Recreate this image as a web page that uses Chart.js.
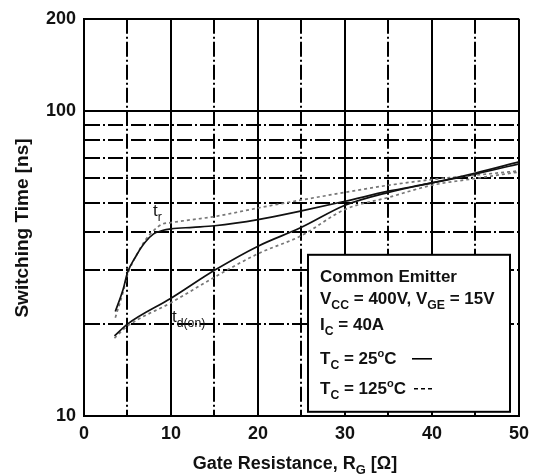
<!DOCTYPE html>
<html>
<head>
<meta charset="utf-8">
<script src="https://cdn.jsdelivr.net/npm/chart.js@4.4.1/dist/chart.umd.min.js"></script>
<style>
  body { margin: 0; background: #fff; }
  #wrap { width: 536px; height: 474px; }
</style>
</head>
<body>
<div id="wrap"><canvas id="myChart" width="536" height="474"></canvas></div>
<script>
// gate resistance (ohm) where the curves were read
const rgTr = [3.6, 4.5, 5, 6, 7, 8, 9, 10, 12.5, 15, 20, 25, 30, 35, 40, 45, 50];
const rgTd = [3.5, 5, 10, 15, 20, 25, 30, 35, 40, 45, 50];

// switching times (ns)
const tr25  = [22, 26, 29.5, 33.5, 37, 39.5, 40.5, 41, 41.5, 42, 44, 47, 50.5, 54.5, 58, 62.5, 68];
const tr125 = [21, 25.5, 29, 33.5, 37.5, 40.5, 42.5, 43, 44, 45, 48, 51, 54, 57, 59.5, 61.5, 63.5];
const td25  = [18.3, 20, 24.3, 30, 36, 41.5, 49, 54, 58, 62, 67];
const td125 = [18, 19.7, 23.5, 28.5, 34, 39, 47.5, 52, 57, 60, 63];

const yTicks = [10, 20, 30, 40, 50, 60, 70, 80, 90, 100, 200];
const yLabels = [10, 100, 200];
const xLabels = [0, 10, 20, 30, 40, 50];

const FONT = "'Liberation Sans', Arial, sans-serif";
const dashDot = [15, 3, 2, 3];

function pts(xs, ys) {
  return xs.map((x, i) => ({ x: x, y: ys[i] }));
}

// draws text with sub / superscript parts
function rich(ctx, x, y, parts, size, weight) {
  let cx = x;
  parts.forEach(p => {
    let s = size, dy = 0;
    if (p.sub) { s = size * 0.72; dy = size * 0.28; }
    if (p.sup) { s = size * 0.65; dy = -size * 0.42; }
    ctx.font = weight + " " + s + "px " + FONT;
    ctx.fillText(p.t, cx, y + dy);
    cx += ctx.measureText(p.t).width;
  });
  return cx;
}

function richWidth(ctx, parts, size, weight) {
  let w = 0;
  parts.forEach(p => {
    let s = size;
    if (p.sub) s = size * 0.72;
    if (p.sup) s = size * 0.65;
    ctx.font = weight + " " + s + "px " + FONT;
    w += ctx.measureText(p.t).width;
  });
  return w;
}

const notes = {
  id: "notes",
  afterDraw(chart) {
    const ctx = chart.ctx;
    const a = chart.chartArea;
    ctx.save();
    ctx.fillStyle = "#111";
    ctx.textBaseline = "alphabetic";
    ctx.textAlign = "left";

    // axis titles
    ctx.save();
    ctx.translate(23, 228);
    ctx.rotate(-Math.PI / 2);
    ctx.font = "bold 19px " + FONT;
    ctx.textAlign = "center";
    ctx.textBaseline = "middle";
    ctx.fillText("Switching Time [ns]", 0, 0);
    ctx.restore();

    const xt = [{ t: "Gate Resistance, R" }, { t: "G", sub: true }, { t: " [\u03A9]" }];
    const xw = richWidth(ctx, xt, 18, "bold");
    rich(ctx, 295 - xw / 2, 469, xt, 18, "bold");

    // curve labels
    rich(ctx, 153, 216, [{ t: "t" }, { t: "r", sub: true }], 17, "normal");
    rich(ctx, 172, 322, [{ t: "t" }, { t: "d(on)", sub: true }], 17, "normal");

    // condition box
    const bx = a.left + 224, by = a.top + 236, bw = 202, bh = 157;
    ctx.fillStyle = "#fff";
    ctx.fillRect(bx, by, bw, bh);
    ctx.strokeStyle = "#000";
    ctx.lineWidth = 2;
    ctx.strokeRect(bx, by, bw, bh);
    ctx.fillStyle = "#111";
    const tx = bx + 12;
    const fs = 17;
    rich(ctx, tx, by + 27, [{ t: "Common Emitter" }], fs, "bold");
    rich(ctx, tx, by + 49, [{ t: "V" }, { t: "CC", sub: true }, { t: " = 400V, V" }, { t: "GE", sub: true }, { t: " = 15V" }], fs, "bold");
    rich(ctx, tx, by + 75, [{ t: "I" }, { t: "C", sub: true }, { t: " = 40A" }], fs, "bold");
    rich(ctx, tx, by + 109, [{ t: "T" }, { t: "C", sub: true }, { t: " = 25" }, { t: "o", sup: true }, { t: "C" }], fs, "bold");
    rich(ctx, tx, by + 139, [{ t: "T" }, { t: "C", sub: true }, { t: " = 125" }, { t: "o", sup: true }, { t: "C" }], fs, "bold");

    ctx.lineWidth = 1.6;
    ctx.beginPath();
    ctx.moveTo(bx + 104, by + 104);
    ctx.lineTo(bx + 124, by + 104);
    ctx.stroke();
    ctx.setLineDash([4, 3]);
    ctx.beginPath();
    ctx.moveTo(bx + 106, by + 134);
    ctx.lineTo(bx + 126, by + 134);
    ctx.stroke();
    ctx.restore();
  }
};

const solid = { borderColor: "#111", borderWidth: 1.7, pointRadius: 0, cubicInterpolationMode: "monotone", fill: false };
const dotted = { borderColor: "#777", borderWidth: 1.7, borderDash: [3, 3], pointRadius: 0, cubicInterpolationMode: "monotone", fill: false };

const ctx = document.getElementById("myChart").getContext("2d");
const myChart = new Chart(ctx, {
  type: "line",
  data: {
    datasets: [
      Object.assign({ label: "tr 25C", data: pts(rgTr, tr25) }, solid),
      Object.assign({ label: "tr 125C", data: pts(rgTr, tr125) }, dotted),
      Object.assign({ label: "td(on) 25C", data: pts(rgTd, td25) }, solid),
      Object.assign({ label: "td(on) 125C", data: pts(rgTd, td125) }, dotted),
    ],
  },
  options: {
    responsive: false,
    animation: false,
    layout: { padding: { left: 0, right: 15, top: 18, bottom: 0 } },
    plugins: { legend: { display: false }, tooltip: { enabled: false } },
    scales: {
      x: {
        type: "linear",
        min: 0,
        max: 50,
        afterBuildTicks: s => { s.ticks = [0, 5, 10, 15, 20, 25, 30, 35, 40, 45, 50].map(v => ({ value: v })); },
        afterFit: s => { s.height = 58; },
        ticks: {
          padding: 7,
          maxRotation: 0,
          autoSkip: false,
          color: "#111",
          font: { family: FONT, size: 18, weight: "bold" },
          callback: v => xLabels.includes(v) ? String(v) : "",
        },
        grid: { color: "#000", lineWidth: 2, drawTicks: false },
        border: {
          color: "#000",
          width: 2,
          dash: c => (c.tick && c.tick.value % 10 !== 0) ? dashDot : [],
        },
      },
      y: {
        type: "logarithmic",
        min: 10,
        max: 200,
        afterBuildTicks: s => { s.ticks = yTicks.map(v => ({ value: v })); },
        afterFit: s => { s.width = 84; },
        ticks: {
          padding: 8,
          autoSkip: false,
          color: "#111",
          font: { family: FONT, size: 18, weight: "bold" },
          callback: v => yLabels.includes(v) ? String(v) : "",
        },
        grid: { color: "#000", lineWidth: 2, drawTicks: false },
        border: {
          color: "#000",
          width: 2,
          dash: c => (c.tick && !yLabels.includes(c.tick.value)) ? dashDot : [],
        },
      },
    },
  },
  plugins: [notes],
});
</script>
</body>
</html>
